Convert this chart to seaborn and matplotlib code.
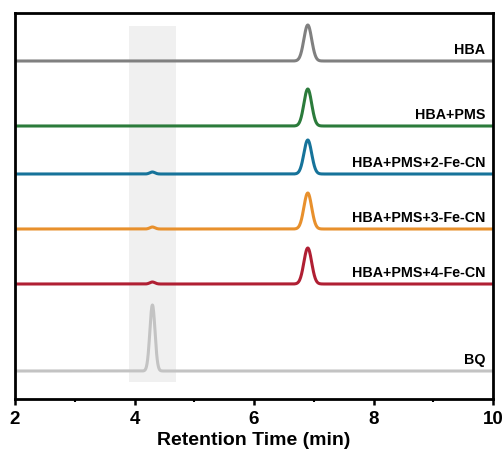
import numpy as np
import pandas as pd
import seaborn as sns
import matplotlib
matplotlib.use("Agg")
import matplotlib.pyplot as plt

# Samples, stacked top to bottom
samples = ["HBA", "HBA+PMS", "HBA+PMS+2-Fe-CN", "HBA+PMS+3-Fe-CN",
           "HBA+PMS+4-Fe-CN", "BQ"]
colors = ["#808080", "#2b7b3b", "#16739a", "#e8902c", "#b01f33", "#c3c3c3"]
# Vertical offset of each trace baseline (a.u.)
baselines = [338, 273, 225, 170, 115, 28]
# HBA peak (~6.9 min) and BQ peak (~4.3 min) heights (a.u.)
hba_peak_rt = 6.9
hba_heights = [36, 37, 34, 36, 36, 0]
bq_peak_rt = 4.3
bq_heights = [0, 0, 2, 2, 2, 66]
hba_sigma = 0.065
bq_sigma = 0.043

time = np.linspace(2, 10, 1601)

frames = []
for name, base, h1, h2 in zip(samples, baselines, hba_heights, bq_heights):
    signal = (base
              + h1 * np.exp(-0.5 * ((time - hba_peak_rt) / hba_sigma) ** 2)
              + h2 * np.exp(-0.5 * ((time - bq_peak_rt) / bq_sigma) ** 2))
    frames.append(pd.DataFrame({"time": time, "signal": signal, "sample": name}))
df = pd.concat(frames, ignore_index=True)

sns.set_style("ticks")
plt.rcParams["font.family"] = ["Liberation Sans", "DejaVu Sans"]
plt.rcParams["text.color"] = "black"
plt.rcParams["axes.labelcolor"] = "black"
plt.rcParams["xtick.color"] = "black"

fig = plt.figure(figsize=(5.04, 4.52), dpi=100)
ax = fig.add_axes([15 / 504, 52 / 452, 478 / 504, 386.5 / 452])

ax.axvspan(3.9, 4.7, ymin=17 / 386.5, ymax=373 / 386.5, color="#f0f0f0",
           lw=0, zorder=0)

sns.lineplot(data=df, x="time", y="signal", hue="sample", hue_order=samples,
             palette=colors, linewidth=2.2, legend=False, ax=ax, zorder=2)

for name, base in zip(samples, baselines):
    ax.text(9.87, base + 12, name, ha="right", va="center",
            fontsize=10.3, fontweight="bold", color="black")

ax.set_xlim(2, 10)
ax.set_ylim(0, 386.5)
ax.set_xticks([2, 4, 6, 8, 10])
ax.set_xticks([3, 5, 7, 9], minor=True)
ax.set_yticks([])
ax.tick_params(axis="x", which="major", direction="out", length=4, width=1.8,
               labelsize=13.5, pad=4, colors="black")
ax.tick_params(axis="x", which="minor", direction="out", length=2.5, width=1.5,
               colors="black")
for lab in ax.get_xticklabels():
    lab.set_fontweight("bold")
ax.set_xlabel("Retention Time (min)", fontsize=14, fontweight="bold",
              labelpad=3, color="black")
ax.set_ylabel("")
for sp in ax.spines.values():
    sp.set_linewidth(2)
    sp.set_color("black")

fig.savefig("out.png", dpi=100)
